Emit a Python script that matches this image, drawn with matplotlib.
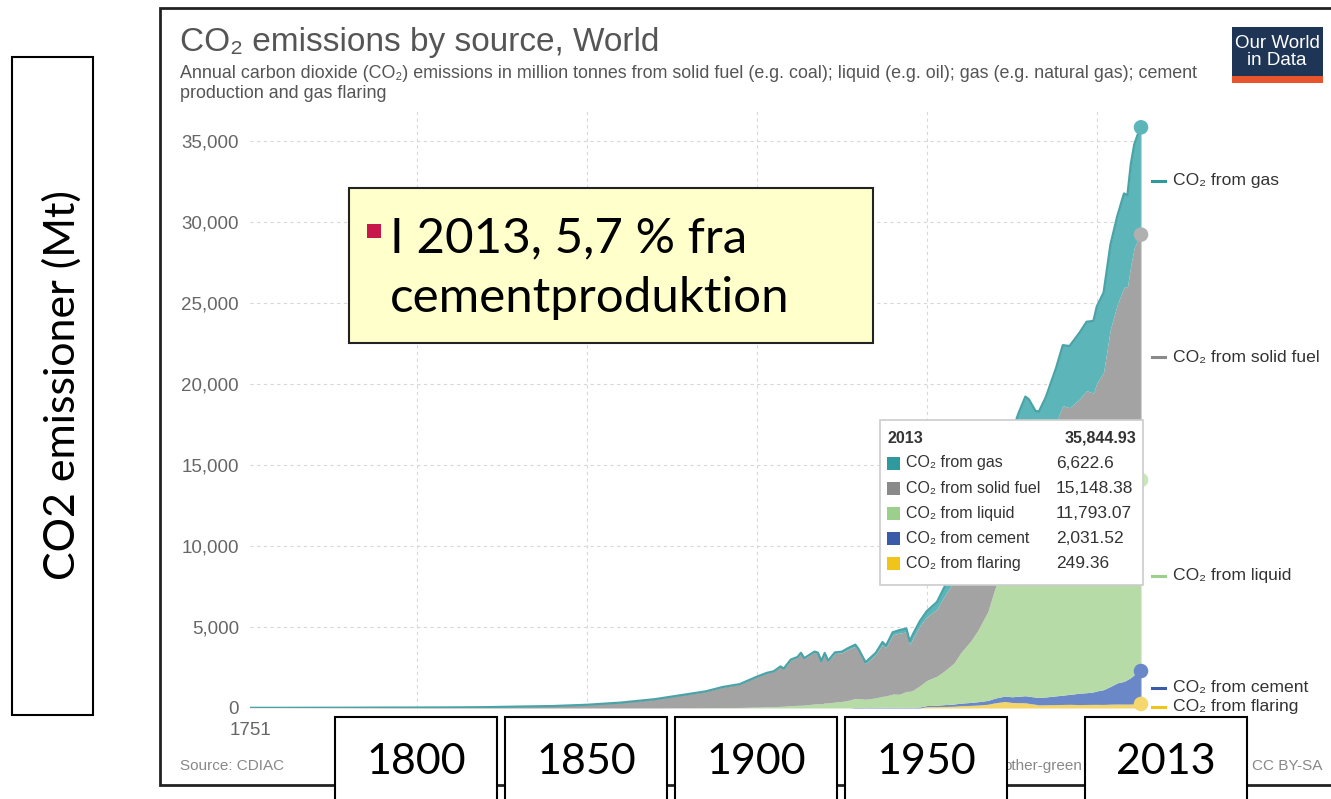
import matplotlib

matplotlib.use("Agg")

import matplotlib.pyplot as plt
import numpy as np
from matplotlib.patches import Rectangle
from matplotlib.lines import Line2D
from matplotlib.transforms import blended_transform_factory

W, H = 1331, 799

# CO2 emissions by source, World (million tonnes CO2)
years = [
    1751, 1760, 1770, 1780, 1790,
    1800, 1810, 1820, 1830, 1840,
    1850, 1860, 1870, 1880, 1885,
    1890, 1895, 1900, 1903, 1905,
    1907, 1908, 1910, 1912, 1913,
    1914, 1916, 1917, 1918, 1919,
    1920, 1921, 1923, 1925, 1927,
    1929, 1930, 1932, 1935, 1937,
    1938, 1940, 1942, 1944, 1945,
    1946, 1948, 1950, 1953, 1955,
    1958, 1960, 1963, 1965, 1968,
    1970, 1973, 1975, 1977, 1979,
    1980, 1982, 1983, 1985, 1988,
    1990, 1992, 1995, 1997, 1999,
    2000, 2002, 2004, 2006, 2008,
    2009, 2010, 2011, 2012, 2013,
]
flaring = [
    0, 0, 0, 0, 0,
    0, 0, 0, 0, 0,
    0, 0, 0, 0, 0,
    0, 0, 0, 0, 0,
    0, 0, 0, 0, 0,
    0, 0, 0, 0, 0,
    0, 0, 0, 0, 0,
    0, 0, 0, 0, 0,
    0, 0, 0, 0, 0,
    0, 0, 84, 88, 95,
    110, 143, 161, 183, 231,
    319, 403, 344, 330, 322,
    286, 227, 191, 202, 209,
    220, 227, 209, 220, 224,
    224, 220, 238, 245, 242,
    242, 245, 249, 249, 249.36,
]
cement = [
    0, 0, 0, 0, 0,
    0, 0, 0, 0, 0,
    0, 0, 0, 0, 0,
    0, 0, 0, 0, 0,
    0, 0, 0, 0, 0,
    0, 0, 0, 0, 0,
    0, 0, 0, 0, 0,
    37, 37, 26, 37, 44,
    48, 51, 44, 37, 37,
    44, 59, 66, 84, 110,
    136, 158, 183, 205, 238,
    286, 337, 348, 396, 436,
    440, 443, 458, 480, 539,
    575, 612, 707, 725, 769,
    828, 912, 1092, 1304, 1403,
    1513, 1634, 1810, 1898, 2031.52,
]
liquid = [
    0, 0, 0, 0, 0,
    0, 0, 0, 0, 0,
    0, 0, 4, 11, 15,
    22, 33, 59, 73, 84,
    103, 110, 147, 165, 169,
    183, 227, 249, 256, 256,
    308, 308, 366, 403, 476,
    550, 550, 513, 586, 678,
    696, 806, 806, 989, 989,
    1063, 1319, 1550, 1795, 2052,
    2528, 3111, 3810, 4397, 5496,
    6738, 8244, 8061, 8794, 9087,
    8827, 8061, 7951, 7988, 8794,
    9222, 9526, 9746, 10149, 10223,
    10428, 10516, 11139, 11322, 11432,
    11139, 11384, 11505, 11652, 11793.07,
]
solid_fuel = [
    11, 11, 15, 18, 26,
    29, 37, 51, 88, 121,
    198, 333, 539, 854, 1008,
    1264, 1429, 1858, 2081, 2162,
    2440, 2308, 2810, 2950, 3206,
    2858, 3078, 3188, 3114, 2601,
    3041, 2565, 3004, 3004, 3151,
    3224, 2931, 2198, 2675, 3224,
    2968, 3664, 3774, 3664, 2858,
    3224, 3701, 3920, 4140, 4580,
    5056, 5166, 5056, 5166, 5203,
    5752, 5752, 6009, 6302, 6778,
    6815, 6888, 6962, 7548, 8061,
    8647, 8171, 8427, 8500, 8207,
    8574, 9087, 10919, 12018, 12897,
    13080, 14070, 14839, 15059, 15148.38,
]
gas = [
    0, 0, 0, 0, 0,
    0, 0, 0, 0, 0,
    0, 0, 0, 0, 4,
    11, 11, 11, 15, 18,
    22, 22, 29, 33, 33,
    37, 40, 44, 44, 44,
    51, 48, 62, 66, 84,
    99, 103, 88, 103, 128,
    128, 154, 183, 220, 234,
    249, 293, 355, 440, 550,
    696, 832, 1063, 1282, 1539,
    1806, 2125, 2235, 2382, 2601,
    2693, 2711, 2748, 2968, 3371,
    3734, 3810, 4104, 4250, 4470,
    4734, 4910, 5203, 5459, 5789,
    5679, 6236, 6375, 6522, 6622.6,
]

# bottom-to-top stacking order
series_names = [
    "CO\u2082 from flaring",
    "CO\u2082 from cement",
    "CO\u2082 from liquid",
    "CO\u2082 from solid fuel",
    "CO\u2082 from gas",
]
fill_colors = ["#f3d56a", "#6a88c8", "#b7dba6", "#a3a3a3", "#5cb5b9"]
mark_colors = ["#f0c419", "#3a5ba8", "#9ccf8c", "#8a8a8a", "#2e9a9e"]
dot_colors = ["#f5d76e", "#6a88c8", "#c8e6bc", "#b0b0b0", "#5cb5b9"]
year_boxes = ["1800", "1850", "1900", "1950", "2013"]

SANS = ["Liberation Sans", "DejaVu Sans"]
SLIDE = ["Lato", "DejaVu Sans"]


def px(x, y):
    return x / W, 1 - y / H


fig = plt.figure(figsize=(W / 100, H / 100), dpi=100, facecolor="white")

# chart panel frame
fig.patches.append(
    Rectangle(px(160, 785), (W + 20 - 160) / W, (785 - 8) / H,
              transform=fig.transFigure, facecolor="white",
              edgecolor="#222222", linewidth=2, zorder=-2)
)

ax = fig.add_axes((250 / W, 1 - 708 / H, (1141 - 250) / W, (708 - 108.6) / H))
ax.set_facecolor("none")
ax.set_xlim(1751, 2013)
ax.set_ylim(0, 37000)

layers = [flaring, cement, liquid, solid_fuel, gas]
x = np.array(years)
stack = np.cumsum(np.array(layers, dtype=float), axis=0)
lower = np.zeros_like(x, dtype=float)
for upper, color in zip(stack, fill_colors):
    ax.fill_between(x, lower, upper, color=color, linewidth=0, zorder=2)
    lower = upper
ax.plot(x, stack[-1], color="#4aa3a7", linewidth=1.6, zorder=3)
ax.axvline(2013, color="white", linewidth=0.8, zorder=3)

ax.scatter([2013] * 5, stack[:, -1], s=110, c=dot_colors, zorder=4,
           clip_on=False, linewidths=0)

ax.set_yticks(range(0, 35001, 5000))
ax.set_yticklabels([f"{v:,}" for v in range(0, 35001, 5000)])
ax.set_xticks([1751])
ax.set_xticklabels(["1751"])
ax.set_xticks([1800, 1850, 1900, 1950, 2000], minor=True)
ax.tick_params(axis="both", which="both", length=0, labelsize=13.5,
               labelcolor="#666666")
ax.tick_params(axis="y", pad=8)
ax.tick_params(axis="x", pad=10)
for label in ax.get_xticklabels() + ax.get_yticklabels():
    label.set_family(SANS)
ax.grid(axis="y", which="major", color="#d8d8d8", linestyle=(0, (3, 3)),
        linewidth=0.8, zorder=1)
ax.grid(axis="x", which="minor", color="#d8d8d8", linestyle=(0, (3, 3)),
        linewidth=0.8, zorder=1)
for spine in ax.spines.values():
    spine.set_visible(False)

# series labels at the right end of the stack
blend = blended_transform_factory(fig.transFigure, ax.transData)
mids = stack[:, -1] - np.array(layers)[:, -1] / 2
mids[0] = stack[0, -1] / 2 - 60
for name, color, mid in zip(series_names, mark_colors, mids):
    fig.lines.append(Line2D([1152 / W, 1165 / W], [mid, mid], transform=blend,
                            color=color, linewidth=2.2))
    fig.text(1173 / W, mid, name, transform=blend, fontsize=12.6,
             color="#333333", va="center", ha="left", family=SANS)

# titles
fig.text(*px(180, 43), "CO\u2082 emissions by source, World", fontsize=24,
         color="#555555", va="center", family=SANS)
fig.text(*px(180, 73),
         "Annual carbon dioxide (CO\u2082) emissions in million tonnes from solid fuel "
         "(e.g. coal); liquid (e.g. oil); gas (e.g. natural gas); cement",
         fontsize=12.9, color="#555555", va="center", family=SANS)
fig.text(*px(180, 93), "production and gas flaring", fontsize=12.9,
         color="#555555", va="center", family=SANS)

# logo
fig.patches.append(Rectangle(px(1232, 83), 91 / W, 56 / H, transform=fig.transFigure,
                             facecolor="#1f3556", edgecolor="none"))
fig.patches.append(Rectangle(px(1232, 83), 91 / W, 7 / H, transform=fig.transFigure,
                             facecolor="#e8542b", edgecolor="none"))
fig.text(*px(1277, 52), "Our World\nin Data", fontsize=13.5, color="white",
         ha="center", va="center", linespacing=1.0, family=SANS)

# footer
fig.text(*px(180, 766), "Source: CDIAC", fontsize=11, color="#888888",
         va="center", family=SANS)
fig.text(*px(1082, 766), "other-green", fontsize=11, color="#888888",
         va="center", ha="right", family=SANS)
fig.text(*px(1322, 766), "CC BY-SA", fontsize=11, color="#888888", va="center",
         ha="right", family=SANS)

# hover tooltip
fig.patches.append(Rectangle(px(880, 585), 263 / W, 165 / H, transform=fig.transFigure,
                             facecolor="white", edgecolor="#cccccc", linewidth=1.2,
                             zorder=5))
fig.text(*px(887, 438), "2013", fontsize=11.5, weight="bold", color="#333333",
         va="center", family=SANS, zorder=6)
fig.text(*px(1136, 438), f"{stack[-1, -1]:,.2f}", fontsize=11.5, weight="bold",
         color="#333333", va="center", ha="right", family=SANS, zorder=6)
for i, k in enumerate([4, 3, 2, 1, 0]):
    y = 463 + i * 25.2
    fig.patches.append(Rectangle(px(887, y + 6.5), 13 / W, 13 / H,
                                 transform=fig.transFigure, facecolor=mark_colors[k],
                                 edgecolor="none", zorder=6))
    fig.text(*px(906, y), series_names[k], fontsize=11.5, color="#333333",
             va="center", family=SANS, zorder=6)
    fig.text(*px(1056, y), f"{layers[k][-1]:,}", fontsize=12.5, color="#333333",
             va="center", family=SANS, zorder=6)

# slide overlay: y-axis caption box
fig.patches.append(Rectangle(px(12, 715), 81 / W, 658 / H, transform=fig.transFigure,
                             facecolor="white", edgecolor="black", linewidth=1.5))
fig.text(*px(62, 385), "CO2 emissioner (Mt)", fontsize=31, rotation=90,
         ha="center", va="center", color="black", family=SLIDE)

# slide overlay: callout
fig.patches.append(Rectangle(px(349, 343), 524 / W, 155 / H, transform=fig.transFigure,
                             facecolor="#ffffcc", edgecolor="#222222", linewidth=1.5,
                             zorder=5))
fig.patches.append(Rectangle(px(367, 238), 14 / W, 14 / H, transform=fig.transFigure,
                             facecolor="#c8174a", edgecolor="none", zorder=6))
fig.text(*px(390, 238), "I 2013, 5,7 % fra", fontsize=35.5, color="black",
         va="center", family=SLIDE, zorder=6)
fig.text(*px(390, 298), "cementproduktion", fontsize=35.5, color="black",
         va="center", family=SLIDE, zorder=6)

# slide overlay: year boxes along the time axis
for left, label in zip([335, 505, 675, 845, 1085], year_boxes):
    fig.patches.append(Rectangle(px(left, 820), 162 / W, 103 / H,
                                 transform=fig.transFigure, facecolor="white",
                                 edgecolor="black", linewidth=1.5, zorder=5))
    fig.text(*px(left + 81, 762), label, fontsize=31, color="black", ha="center",
             va="center", family=SLIDE, zorder=6)

fig.savefig("out.png", dpi=100, facecolor="white")
